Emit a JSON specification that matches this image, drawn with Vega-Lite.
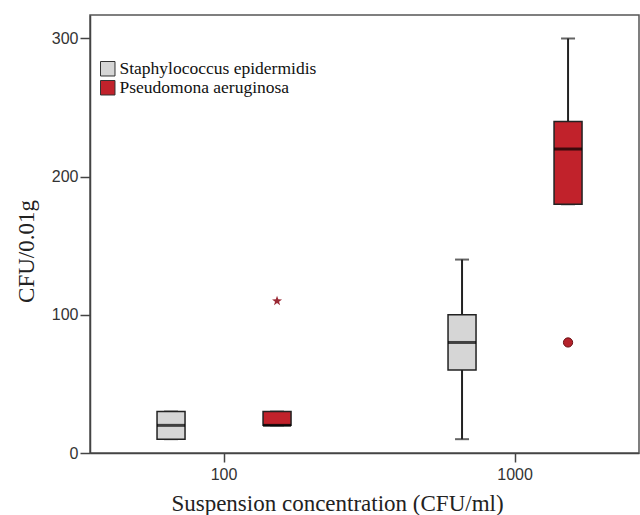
{
  "$schema": "https://vega.github.io/schema/vega-lite/v6.json",
  "autosize": {"type": "none"},
  "padding": {"left": 90, "top": 15, "right": 1, "bottom": 62},
  "width": 549,
  "height": 438,
  "background": "white",
  "config": {
    "view": {"stroke": "#555", "strokeWidth": 1.5},
    "axis": {"grid": false, "domainColor": "#444", "domainWidth": 1.5, "tickColor": "#444", "tickWidth": 1.5, "labelFont": "Liberation Sans", "labelColor": "#333", "labelFontSize": 16, "titleFont": "Liberation Serif", "titleFontWeight": "normal", "titleColor": "#222"}
  },
  "datasets": {
    "boxes": [
      {"conc": "100", "species": "Staphylococcus epidermidis", "lo": 10, "q1": 10, "med": 20, "q3": 30, "hi": 30},
      {"conc": "100", "species": "Pseudomona aeruginosa", "lo": 20, "q1": 20, "med": 20, "q3": 30, "hi": 30},
      {"conc": "1000", "species": "Staphylococcus epidermidis", "lo": 10, "q1": 60, "med": 80, "q3": 100, "hi": 140},
      {"conc": "1000", "species": "Pseudomona aeruginosa", "lo": 180, "q1": 180, "med": 220, "q3": 240, "hi": 300}
    ],
    "outliers": [
      {"conc": "100", "species": "Pseudomona aeruginosa", "value": 110, "kind": "extreme"},
      {"conc": "1000", "species": "Pseudomona aeruginosa", "value": 80, "kind": "outlier"}
    ]
  },
  "data": {"name": "boxes"},
  "encoding": {
    "x": {
      "field": "conc", "type": "nominal",
      "scale": {"domain": ["100", "1000"], "paddingInner": 0.2, "paddingOuter": 0.0433, "align": 0.7},
      "axis": {"title": "Suspension concentration (CFU/ml)", "labelAngle": 0, "tickSize": 9, "labelPadding": 4, "titleFontSize": 23, "titleX": 247, "titleY": 57, "titleAlign": "center", "titleBaseline": "alphabetic"}
    },
    "xOffset": {
      "field": "species", "type": "nominal",
      "scale": {"domain": ["Staphylococcus epidermidis", "Pseudomona aeruginosa"], "paddingInner": 0, "paddingOuter": 0.098}
    }
  },
  "layer": [
    {
      "mark": {"type": "rule", "color": "#222", "strokeWidth": 2},
      "encoding": {
        "y": {"field": "lo", "type": "quantitative", "scale": {"domain": [0, 317], "nice": false}, "axis": {"title": "CFU/0.01g", "values": [0, 100, 200, 300], "tickSize": 10, "labelPadding": 2, "titleFontSize": 23, "titleX": -64, "titleY": 236, "titleAlign": "center", "titleBaseline": "middle", "titleAngle": -90}},
        "y2": {"field": "hi"}
      }
    },
    {
      "mark": {"type": "tick", "color": "#222", "size": 14, "thickness": 2},
      "encoding": {"y": {"field": "hi", "type": "quantitative"}}
    },
    {
      "mark": {"type": "tick", "color": "#222", "size": 14, "thickness": 2},
      "encoding": {"y": {"field": "lo", "type": "quantitative"}}
    },
    {
      "mark": {"type": "bar", "width": 28, "stroke": "#222", "strokeWidth": 1.5},
      "encoding": {
        "y": {"field": "q1", "type": "quantitative"},
        "y2": {"field": "q3"},
        "fill": {
          "field": "species", "type": "nominal",
          "scale": {"domain": ["Staphylococcus epidermidis", "Pseudomona aeruginosa"], "range": ["#d6d6d6", "#c1222b"]},
          "legend": {"title": null, "orient": "none", "legendX": 9, "legendY": 45, "symbolType": "square", "symbolSize": 210, "symbolStrokeColor": "#333", "symbolStrokeWidth": 1, "symbolOpacity": 1, "labelFont": "Liberation Serif", "labelFontSize": 17.5, "labelColor": "#111", "rowPadding": 0, "labelOffset": 3, "labelLimit": 400}
        }
      }
    },
    {
      "mark": {"type": "tick", "color": "#000", "size": 28, "thickness": 3},
      "encoding": {"y": {"field": "med", "type": "quantitative"}}
    },
    {
      "data": {"name": "outliers"},
      "transform": [{"filter": "datum.kind === 'outlier'"}],
      "mark": {"type": "point", "shape": "circle", "filled": true, "size": 85, "color": "#b5222b", "stroke": "#6a1015", "strokeWidth": 1, "opacity": 1},
      "encoding": {"y": {"field": "value", "type": "quantitative"}}
    },
    {
      "data": {"name": "outliers"},
      "transform": [{"filter": "datum.kind === 'extreme'"}],
      "mark": {"type": "point", "shape": "M0,-1L0.235,-0.324L0.951,-0.309L0.38,0.124L0.588,0.809L0,0.4L-0.588,0.809L-0.38,0.124L-0.951,-0.309L-0.235,-0.324Z", "filled": true, "size": 110, "color": "#9b2a35", "opacity": 1},
      "encoding": {"y": {"field": "value", "type": "quantitative"}}
    }
  ]
}
